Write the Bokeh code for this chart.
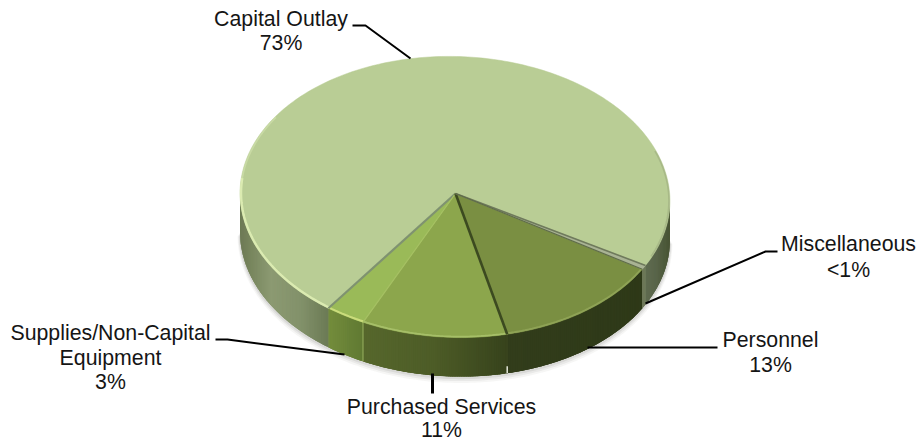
import math
from bokeh.embed import file_html
from bokeh.resources import INLINE
from bokeh.plotting import figure
from bokeh.models import Range1d
from bokeh.core.properties import value

# Budget shares, clockwise from the Personnel / Miscellaneous edge
categories = ["Personnel", "Purchased Services", "Supplies/Non-Capital Equipment", "Capital Outlay", "Miscellaneous"]
shares = [13, 11, 3, 73, 0.5]
share_labels = ["13%", "11%", "3%", "73%", "<1%"]
top_colors = ["#7a8f42", "#8ca64c", "#9aba58", "#b9cd95", "#a9b394"]

# Pie geometry on the page; the ellipse leans slightly with the tilted view
CX, CY, RX, RY = 454.5, 196.5, 215.0, 140.5
LEAN = math.radians(1.8)
APEX = (455.0, 193.0)
DEPTH = 39.0
START = 28.2
WALL_FROM, WALL_TO = -1.2, 178.8

# Horizontal colour ramps of the outer wall, (x, colour) stops per slice
wall_ramps = [
    [(505, "#323d1b"), (645, "#2e3918")],
    [(363, "#56672c"), (432, "#4d5c27"), (505, "#37431c")],
    [(327, "#748d3c"), (363, "#5f7832")],
    [(238, "#6a7652"), (250, "#78865e"), (270, "#8c9a72"), (300, "#82916a"), (327, "#6b7a55"),
     (640, "#626e52"), (655, "#59654a"), (670, "#465231")],
    [(640, "#6d7858"), (645, "#6d7858")],
]


def rim(theta, dy=0.0, shrink=0.0):
    t = math.radians(theta)
    ex, ey = (RX - shrink) * math.cos(t), (RY - shrink) * math.sin(t)
    return (CX + ex * math.cos(LEAN) - ey * math.sin(LEAN),
            CY + dy + ex * math.sin(LEAN) + ey * math.cos(LEAN))


def arc(a, b, dy=0.0, shrink=0.0, step=1.0):
    n = max(2, int(abs(b - a) / step) + 1)
    pts = [rim(a + (b - a) * i / (n - 1), dy, shrink) for i in range(n)]
    return [q[0] for q in pts], [q[1] for q in pts]


def ramp_color(stops, x):
    def rgb(h):
        return [int(h[i:i + 2], 16) for i in (1, 3, 5)]
    if x <= stops[0][0]:
        return stops[0][1]
    for (x0, c0), (x1, c1) in zip(stops, stops[1:]):
        if x <= x1:
            f = (x - x0) / (x1 - x0)
            mix = [round(u + (v - u) * f) for u, v in zip(rgb(c0), rgb(c1))]
            return "#%02x%02x%02x" % tuple(mix)
    return stops[-1][1]


total = sum(shares)
edges = [START]
for s in shares:
    edges.append(edges[-1] + s / total * 360.0)

p = figure(width=919, height=443, output_backend="svg", toolbar_location=None,
           x_range=Range1d(0, 919), y_range=Range1d(443, 0), min_border=0,
           outline_line_color=None, background_fill_color="white", border_fill_color="white")
p.axis.visible = False
p.grid.visible = False

# Soft contact shadow under the wall
for off, alpha in [(4.0, 0.05), (2.8, 0.07), (1.6, 0.10)]:
    xs, ys = arc(WALL_FROM, WALL_TO, DEPTH + off, -off * 0.6)
    p.patch(xs, ys, fill_color="#4a4a40", fill_alpha=alpha, line_color=None)

# Outer wall: a flat base per slice with overlapping gradient strips on top
sx, sy, sc = [], [], []
for i, ramp in enumerate(wall_ramps):
    a, b = edges[i], edges[i + 1]
    spans = []
    if a < WALL_TO:
        spans.append((a, min(b, WALL_TO)))
    if b > 360 + WALL_FROM:
        spans.append((max(a, 360 + WALL_FROM), b))
    for u, v in spans:
        ax, ay = arc(u, v)
        bx, by = arc(v, u, DEPTH)
        base = ramp_color(ramp, (ax[0] + ax[-1]) / 2)
        p.patch(ax + bx, ay + by, fill_color=base, line_color=None)
        th = u
        while th < v:
            nx = min(th + 0.6, v)
            over = min(nx + 0.5, v)
            x0, y0 = rim(th)
            x1, y1 = rim(over)
            x2, y2 = rim(over, DEPTH)
            x3, y3 = rim(th, DEPTH)
            sx.append([x0, x1, x2, x3])
            sy.append([y0, y1, y2, y3])
            sc.append(ramp_color(ramp, (x0 + x1) / 2))
            th = nx
p.patches(sx, sy, fill_color=sc, line_color=None)

# Seams on the wall between the front slices
for th, col in [(edges[2], "#8ea858"), (edges[1], "#3a451f")]:
    x0, y0 = rim(th)
    x1, y1 = rim(th, DEPTH)
    p.line([x0, x1], [y0, y1], line_color=col, line_width=1.2)
x0, y0 = rim(edges[1], DEPTH - 7)
x1, y1 = rim(edges[1], DEPTH)
p.line([x0, x1], [y0, y1], line_color="#e4e8da", line_width=1.5)

# Top face
for i, col in enumerate(top_colors):
    xs, ys = arc(edges[i], edges[i + 1])
    p.patch([APEX[0]] + xs, [APEX[1]] + ys, fill_color=col, line_color=col, line_width=0.5)

# Bevel highlights along the rim of the top face
for a, b, col, w, al in [
    (edges[3], 185.0, "#dfeeb4", 2.4, 0.9),
    (185.0, 212.0, "#d6e6b0", 1.6, 0.55),
    (edges[2], edges[3], "#cfe080", 2.0, 0.9),
    (edges[1], edges[2], "#a9c26c", 1.8, 0.9),
    (edges[0], edges[1], "#93a85a", 1.8, 0.8),
    (-22.0, edges[4] - 360.0 - 4.0, "#9cab7e", 1.6, 0.6),
]:
    xs, ys = arc(a, b, 0.0, 1.0)
    p.line(xs, ys, line_color=col, line_width=w, line_alpha=al)

# Dividing edges running out from the apex
for th, col, w in [
    (edges[3], "#7f9270", 2.2),
    (edges[2], "#a5c062", 1.2),
    (edges[1], "#3c4a20", 2.6),
    (edges[4], "#6f7a5c", 1.6),
    (edges[0], "#5f6c48", 1.2),
]:
    x, y = rim(th)
    p.line([APEX[0], x], [APEX[1], y], line_color=col, line_width=w)

# Leader lines from the labels to the pie
leaders = [
    ([352, 365, 410], [25, 25, 58], 2.0),
    ([777, 765, 645], [251, 251, 303], 2.0),
    ([717, 587], [347, 347], 2.0),
    ([432, 432], [373, 393], 3.0),
    ([215, 227, 344], [339, 339, 354], 2.0),
]
for lx, ly, w in leaders:
    p.line(lx, ly, line_color="#000000", line_width=w)

# Slice labels, one entry per text line
names = [categories[3], categories[4], categories[0], categories[1], "Supplies/Non-Capital", "Equipment"]
label_text = names + [share_labels[3], share_labels[4], share_labels[0], share_labels[1], share_labels[2]]
label_x = [280.5, 848, 770, 441, 110, 110, 280.5, 848, 770, 441, 110]
label_y = [18.5, 243, 339.5, 406.5, 332.5, 357.5, 42.5, 269.5, 364.5, 429.5, 381.5]
p.text(label_x, label_y, text=label_text, text_font=value("Liberation Sans"), text_font_size="21.3px",
       text_color="#151515", text_align="center", text_baseline="middle")

open("out.html", "w").write(file_html(p, INLINE))
